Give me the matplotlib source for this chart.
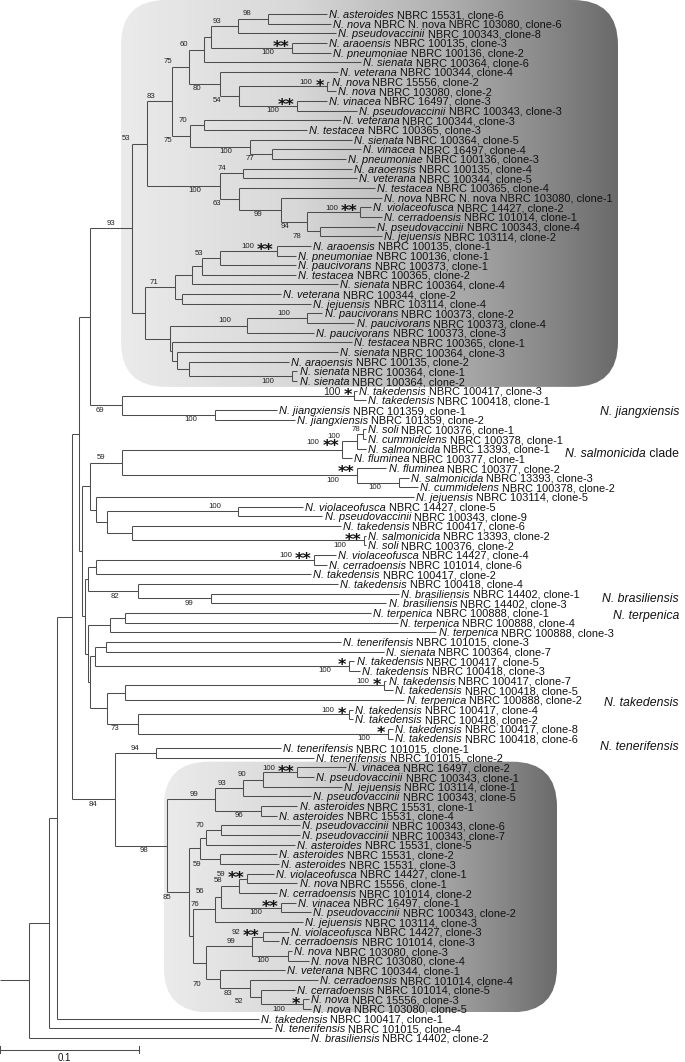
import numpy as np
import matplotlib
matplotlib.use("Agg")
import matplotlib.pyplot as plt
from matplotlib.collections import LineCollection
from matplotlib.patches import FancyBboxPatch
from matplotlib.colors import LinearSegmentedColormap

# ---- leaves (top to bottom) ----
LEAF_SPECIES = [
    "asteroides", "nova", "pseudovaccinii", "araoensis", "pneumoniae", "sienata", "veterana", "nova", "nova", "vinacea",
    "pseudovaccinii", "veterana", "testacea", "sienata", "vinacea", "pneumoniae", "araoensis", "veterana", "testacea", "nova",
    "violaceofusca", "cerradoensis", "pseudovaccinii", "jejuensis", "araoensis", "pneumoniae", "paucivorans", "testacea", "sienata", "veterana",
    "jejuensis", "paucivorans", "paucivorans", "paucivorans", "testacea", "sienata", "araoensis", "sienata", "sienata", "takedensis",
    "takedensis", "jiangxiensis", "jiangxiensis", "soli", "cummidelens", "salmonicida", "fluminea", "fluminea", "salmonicida", "cummidelens",
    "jejuensis", "violaceofusca", "pseudovaccinii", "takedensis", "salmonicida", "soli", "violaceofusca", "cerradoensis", "takedensis", "takedensis",
    "brasiliensis", "brasiliensis", "terpenica", "terpenica", "terpenica", "tenerifensis", "sienata", "takedensis", "takedensis", "takedensis",
    "takedensis", "terpenica", "takedensis", "takedensis", "takedensis", "takedensis", "tenerifensis", "tenerifensis", "vinacea", "pseudovaccinii",
    "jejuensis", "pseudovaccinii", "asteroides", "asteroides", "pseudovaccinii", "pseudovaccinii", "asteroides", "asteroides", "asteroides", "violaceofusca",
    "nova", "cerradoensis", "vinacea", "pseudovaccinii", "jejuensis", "violaceofusca", "cerradoensis", "nova", "nova", "veterana",
    "cerradoensis", "cerradoensis", "nova", "nova", "takedensis", "tenerifensis", "brasiliensis",
]

LEAF_STRAIN = [
    "NBRC 15531, clone-6", "NBRC N. nova NBRC 103080, clone-6", "NBRC 100343, clone-8", "NBRC 100135, clone-3",
    "NBRC 100136, clone-2", "NBRC 100364, clone-6", "NBRC 100344, clone-4", "NBRC 15556, clone-2",
    "NBRC 103080, clone-2", "NBRC 16497, clone-3", "NBRC 100343, clone-3", "NBRC 100344, clone-3",
    "NBRC 100365, clone-3", "NBRC 100364, clone-5", "NBRC 16497, clone-4", "NBRC 100136, clone-3",
    "NBRC 100135, clone-4", "NBRC 100344, clone-5", "NBRC 100365, clone-4", "NBRC N. nova NBRC 103080, clone-1",
    "NBRC 14427, clone-2", "NBRC 101014, clone-1", "NBRC 100343, clone-4", "NBRC 103114, clone-2",
    "NBRC 100135, clone-1", "NBRC 100136, clone-1", "NBRC 100373, clone-1", "NBRC 100365, clone-2",
    "NBRC 100364, clone-4", "NBRC 100344, clone-2", "NBRC 103114, clone-4", "NBRC 100373, clone-2",
    "NBRC 100373, clone-4", "NBRC 100373, clone-3", "NBRC 100365, clone-1", "NBRC 100364, clone-3",
    "NBRC 100135, clone-2", "NBRC 100364, clone-1", "NBRC 100364, clone-2", "NBRC 100417, clone-3",
    "NBRC 100418, clone-1", "NBRC 101359, clone-1", "NBRC 101359, clone-2", "NBRC 100376, clone-1",
    "NBRC 100378, clone-1", "NBRC 13393, clone-1", "NBRC 100377, clone-1", "NBRC 100377, clone-2",
    "NBRC 13393, clone-3", "NBRC 100378, clone-2", "NBRC 103114, clone-5", "NBRC 14427, clone-5",
    "NBRC 100343, clone-9", "NBRC 100417, clone-6", "NBRC 13393, clone-2", "NBRC 100376, clone-2",
    "NBRC 14427, clone-4", "NBRC 101014, clone-6", "NBRC 100417, clone-2", "NBRC 100418, clone-4",
    "NBRC 14402, clone-1", "NBRC 14402, clone-3", "NBRC 100888, clone-1", "NBRC 100888, clone-4",
    "NBRC 100888, clone-3", "NBRC 101015, clone-3", "NBRC 100364, clone-7", "NBRC 100417, clone-5",
    "NBRC 100418, clone-3", "NBRC 100417, clone-7", "NBRC 100418, clone-5", "NBRC 100888, clone-2",
    "NBRC 100417, clone-4", "NBRC 100418, clone-2", "NBRC 100417, clone-8", "NBRC 100418, clone-6",
    "NBRC 101015, clone-1", "NBRC 101015, clone-2", "NBRC 16497, clone-2", "NBRC 100343, clone-1",
    "NBRC 103114, clone-1", "NBRC 100343, clone-5", "NBRC 15531, clone-1", "NBRC 15531, clone-4",
    "NBRC 100343, clone-6", "NBRC 100343, clone-7", "NBRC 15531, clone-5", "NBRC 15531, clone-2",
    "NBRC 15531, clone-3", "NBRC 14427, clone-1", "NBRC 15556, clone-1", "NBRC 101014, clone-2",
    "NBRC 16497, clone-1", "NBRC 100343, clone-2", "NBRC 103114, clone-3", "NBRC 14427, clone-3",
    "NBRC 101014, clone-3", "NBRC 103080, clone-3", "NBRC 103080, clone-4", "NBRC 100344, clone-1",
    "NBRC 101014, clone-4", "NBRC 101014, clone-5", "NBRC 15556, clone-3", "NBRC 103080, clone-5",
    "NBRC 100417, clone-1", "NBRC 101015, clone-4", "NBRC 14402, clone-2",
]

# tip depth from the root stub (substitutions / site)
LEAF_DEPTH = [
    .235, .238, .242, .235, .238, .260, .243, .237, .242, .235,
    .257, .245, .221, .253, .260, .249, .253, .257, .270, .275,
    .267, .275, .270, .275, .224, .213, .213, .213, .243, .202,
    .224, .232, .255, .226, .253, .243, .208, .214, .214, .257,
    .263, .199, .212, .263, .263, .263, .253, .278, .294, .301,
    .298, .218, .232, .245, .263, .263, .242, .235, .224, .243,
    .287, .278, .267, .286, .314, .245, .276, .255, .259, .278,
    .283, .291, .254, .254, .283, .283, .202, .226, .249, .226,
    .246, .224, .214, .199, .216, .216, .212, .199, .201, .197,
    .214, .199, .213, .224, .218, .208, .201, .210, .222, .205,
    .229, .212, .222, .224, .186, .196, .222,
]

# ---- internal nodes: (id, depth, children, bootstrap, label side, significance stars) ----
TOP_CLADE = [
    ("t98", .193, [1, 2], "98", "a", ""),
    ("t93", .171, ["t98", 3], "93", "a", ""),
    ("t100a", .210, [4, 5], "100", "b", "**"),
    ("t211", .152, ["t93", "t100a"], "", "", ""),
    ("t60", .147, ["t211", 6], "60", "a", ""),
    ("t100b", .235, [8, 9], "100", "a", "*"),
    ("t100c", .214, [10, 11], "100", "b", "**"),
    ("t54", .172, ["t100b", "t100c"], "54", "b", ""),
    ("t80", .158, [7, "t54"], "80", "b", ""),
    ("t75a", .136, ["t60", "t80"], "75", "a", ""),
    ("t70", .147, [12, 13], "70", "a", ""),
    ("t77", .196, [15, 16], "77", "b", ""),
    ("t100d", .180, [14, "t77"], "100", "b", ""),
    ("t75b", .137, ["t70", "t100d"], "75", "b", ""),
    ("t83", .124, ["t75a", "t75b"], "83", "a", ""),
    ("t74", .175, [17, 18], "74", "a", ""),
    ("t100e", .259, [21, 22], "100", "a", "**"),
    ("t78", .230, [23, 24], "78", "b", ""),
    ("t94", .221, ["t100e", "t78"], "94", "b", ""),
    ("t99", .202, [20, "t94"], "99", "b", ""),
    ("t63", .172, [19, "t99"], "63", "b", ""),
    ("t100f", .158, ["t74", "t63"], "100", "b", ""),
    ("t53a", .106, ["t83", "t100f"], "53", "a", ""),
    ("t100g", .199, [25, 26], "100", "a", "**"),
    ("t53b", .158, ["t100g", 27], "53", "a", ""),
    ("t202", .145, ["t53b", 28], "", "", ""),
    ("t192", .138, ["t202", 29], "", "", ""),
    ("t182", .131, [30, 31], "", "", ""),
    ("t71", .126, ["t192", "t182"], "71", "a", ""),
    ("t100h", .221, [32, 33], "100", "a", ""),
    ("t100i", .178, ["t100h", 34], "100", "a", ""),
    ("t100j", .210, [38, 39], "100", "b", ""),
    ("t189", .136, [37, "t100j"], "", "", ""),
    ("t176", .127, [36, "t189"], "", "", ""),
    ("t173", .124, [35, "t176"], "", "", ""),
    ("t169", .122, ["t100i", "t173"], "", "", ""),
    ("t145", .104, ["t71", "t169"], "", "", ""),
    ("t93b", .095, ["t53a", "t145"], "93", "a", ""),
]

MIDDLE_NODES = [
    ("m100a", .255, [40, 41], "100", "a", "*"),
    ("m100b", .155, [42, 43], "100", "b", ""),
    ("m69", .088, ["m100a", "m100b"], "69", "b", ""),
    ("m91", .065, ["t93b", "m69"], "", "", ""),
    ("m78", .261, [44, 45], "78", "A", ""),
    ("m100c", .257, ["m78", 46], "100", "a", ""),
    ("m100d", .246, ["m100c", 47], "100", "a", "**"),
    ("m100e", .287, [49, 50], "100", "b", ""),
    ("m100f", .257, [48, "m100e"], "100", "b", "**"),
    ("m59", .088, ["m100d", "m100f"], "59", "a", ""),
    ("m100g", .171, [52, 53], "100", "a", ""),
    ("m100h", .262, [55, 56], "100", "b", "**"),
    ("m132", .095, [54, "m100h"], "", "", ""),
    ("m107", .077, ["m100g", "m132"], "", "", ""),
    ("m96", .069, [51, "m107"], "", "", ""),
    ("mF", .065, ["m59", "m96"], "", "", ""),
    ("m100i", .226, [57, 58], "100", "a", "**"),
    ("m96b", .069, ["m100i", 59], "", "", ""),
    ("m99", .152, [61, 62], "99", "b", ""),
    ("m82", .099, [60, "m99"], "82", "b", ""),
    ("m88", .063, ["m96b", "m82"], "", "", ""),
    ("m125", .090, [63, 64], "", "", ""),
    ("m110", .079, ["m125", 65], "", "", ""),
    ("m105", .076, [66, 67], "", "", ""),
    ("m100j", .251, [68, 69], "100", "b", "*"),
    ("m94", .068, ["m105", "m100j"], "", "", ""),
    ("m100k", .276, [70, 71], "100", "a", "*"),
    ("m125b", .090, ["m100k", 72], "", "", ""),
    ("m100l", .251, [73, 74], "100", "a", "*"),
    ("m100m", .279, [75, 76], "100", "b", "*"),
    ("m73", .099, ["m100l", "m100m"], "73", "b", ""),
    ("m107b", .077, ["m125b", "m73"], "", "", ""),
    ("mH", .065, ["m94", "m107b"], "", "", ""),
    ("mI", .063, ["m110", "mH"], "", "", ""),
    ("mJ", .061, ["m88", "mI"], "", "", ""),
    ("mE", .059, ["mF", "mJ"], "", "", ""),
    ("mD", .057, ["m91", "mE"], "", "", ""),
]

BOTTOM_CLADE = [
    ("b94", .112, [77, 78], "94", "a", ""),
    ("b100a", .214, [79, 80], "100", "a", "**"),
    ("b90", .189, ["b100a", 81], "90", "a", ""),
    ("b93", .175, ["b90", 82], "93", "a", ""),
    ("b96", .188, [83, 84], "96", "b", ""),
    ("b99a", .155, ["b93", "b96"], "99", "a", ""),
    ("b70a", .159, [85, 86], "70", "a", ""),
    ("b206", .148, ["b70a", 87], "", "", ""),
    ("b59a", .158, [88, 89], "59", "b", ""),
    ("bT", .144, ["b206", "b59a"], "", "", ""),
    ("b59b", .178, [90, 91], "59", "a", "**"),
    ("b58", .172, ["b59b", 92], "58", "a", ""),
    ("b100b", .202, [93, 94], "100", "b", "**"),
    ("b56", .159, ["b58", "b100b"], "56", "a", ""),
    ("b76", .155, ["b56", 95], "76", "a", ""),
    ("b92", .189, [96, 97], "92", "a", "**"),
    ("b100c", .207, [98, 99], "100", "b", ""),
    ("b99b", .181, ["b92", "b100c"], "99", "a", ""),
    ("b100d", .218, [103, 104], "100", "b", "*"),
    ("b52", .188, [102, "b100d"], "52", "b", ""),
    ("b83", .180, [101, "b52"], "83", "b", ""),
    ("b70b", .158, [100, "b83"], "70", "b", ""),
    ("bW", .148, ["b99b", "b70b"], "", "", ""),
    ("bU", .139, ["b76", "bW"], "", "", ""),
    ("b85", .136, ["bT", "bU"], "85", "b", ""),
    ("b98", .120, ["b99a", "b85"], "98", "b", ""),
    ("b84", .083, ["b94", "b98"], "84", "b", ""),
]

BACKBONE = [
    ("rC", .052, ["mD", "b84"], "", "", ""),
    ("rB", .041, ["rC", 105], "", "", ""),
    ("rA", .035, ["rB", 106], "", "", ""),
    ("root", .021, ["rA", 107], "", "", ""),
]

GROUP_NAMES = ["N. jiangxiensis", "N. salmonicida", "N. brasiliensis", "N. terpenica", "N. takedensis", "N. tenerifensis"]
GROUP_SUFFIX = ["", " clade", "", "", "", ""]
GROUP_ROW = [41.0, 45.4, 60.4, 62.2, 71.2, 75.7]

SCALE_BAR = 0.1

# ---- layout ----
DPI = 100
W_PX, H_PX = 685, 1062
PX_PER_UNIT = 1390.0      # scale bar 0.1 ~ 139 px
ROW_PX = 9.66
TOP_PX = 14.0

plt.rcParams["font.family"] = ["Liberation Sans", "DejaVu Sans"]
FS_LEAF = 7.9
FS_SUP = 5.6
FS_STAR = 11.5
FS_GROUP = 8.8
LINE_C = "#4d4d4d"
TXT_C = "#111111"

fig = plt.figure(figsize=(W_PX / DPI, H_PX / DPI), dpi=DPI)
ax = fig.add_axes([0, 0, 1, 1])
ax.set_xlim(0, W_PX / PX_PER_UNIT)
ax.set_ylim((H_PX - TOP_PX) / ROW_PX, -TOP_PX / ROW_PX)
ax.axis("off")

nodes = {}
for group in (TOP_CLADE, MIDDLE_NODES, BOTTOM_CLADE, BACKBONE):
    for nid, depth, kids, sup, side, star in group:
        nodes[nid] = {"depth": depth, "kids": kids, "sup": sup, "side": side, "star": star}


def pos(ref):
    if isinstance(ref, int):
        return LEAF_DEPTH[ref - 1], float(ref - 1)
    n = nodes[ref]
    if "y" not in n:
        ys = [pos(k)[1] for k in n["kids"]]
        n["y"] = (ys[0] + ys[-1]) / 2
    return n["depth"], n["y"]


# ---- shaded clade boxes ----
box_cmap = LinearSegmentedColormap.from_list(
    "box", [(0, "#ebebeb"), (0.35, "#d8d8d8"), (0.65, "#b0b0b0"), (0.85, "#8a8a8a"), (1, "#6a6a6a")])
r_x = 45 / PX_PER_UNIT
aspect = PX_PER_UNIT / ROW_PX
boxes = [
    (nodes["t93b"]["depth"] - 11 / PX_PER_UNIT, 618 / PX_PER_UNIT, -1.45, 38.6),
    (nodes["b98"]["depth"] - 3 / PX_PER_UNIT, 557 / PX_PER_UNIT, 77.4, 103.35),
]
grad = np.linspace(0, 1, 256)[None, :]
for x0, x1, y0, y1 in boxes:
    patch = FancyBboxPatch((x0, y0), x1 - x0, y1 - y0,
                           boxstyle=f"round,pad=0,rounding_size={r_x}",
                           mutation_aspect=aspect, facecolor="none", edgecolor="none")
    ax.add_patch(patch)
    im = ax.imshow(grad, extent=(x0, x1, y1, y0), cmap=box_cmap, aspect="auto",
                   interpolation="bilinear", zorder=0)
    im.set_clip_path(patch)

# ---- branches ----
segs = []
for nid, n in nodes.items():
    d, y = pos(nid)
    kid_pos = [pos(k) for k in n["kids"]]
    segs.append([(d, kid_pos[0][1]), (d, kid_pos[-1][1])])
    for kd, ky in kid_pos:
        segs.append([(d, ky), (kd, ky)])
rd, ry = pos("root")
segs.append([(0, ry), (rd, ry)])
ax.add_collection(LineCollection(segs, colors=LINE_C, linewidths=0.75, zorder=2))

# ---- leaf labels ----
for i in range(len(LEAF_SPECIES)):
    t = ax.annotate("N. " + LEAF_SPECIES[i], xy=(LEAF_DEPTH[i], i), xytext=(1.5, 0),
                    textcoords="offset points", fontsize=FS_LEAF, style="italic",
                    ha="left", va="center_baseline", color=TXT_C, zorder=3)
    ax.annotate(LEAF_STRAIN[i], xy=(1, 0), xycoords=t, xytext=(0.28 * FS_LEAF, 0),
                textcoords="offset points", fontsize=FS_LEAF, ha="left", va="bottom",
                color=TXT_C, zorder=3)

# ---- bootstrap values and stars ----
star_w = 0.5 * FS_STAR
for nid, n in nodes.items():
    d, y = pos(nid)
    up_d, up_y = pos(n["kids"][0])
    if n["star"]:
        ax.annotate(n["star"], xy=(d, up_y), xytext=(-2.0, -0.58 * FS_STAR), textcoords="offset points",
                    fontsize=FS_STAR, fontweight="bold", family="DejaVu Sans",
                    ha="right", va="baseline", color=TXT_C, zorder=3)
    if not n["sup"]:
        continue
    fs = 7.5 if nid == "m100a" else FS_SUP
    side = n["side"]
    if side == "a" and n["star"]:
        dx = -(2.0 + star_w * len(n["star"]) + 2.5)
        ax.annotate(n["sup"], xy=(d, up_y), xytext=(dx, 0), textcoords="offset points",
                    fontsize=fs, ha="right", va="center_baseline", color="#222222", zorder=3)
    elif side in ("a", "A"):
        dx = -12.0 if side == "a" else -2.0
        ax.annotate(n["sup"], xy=(d, y), xytext=(dx, 1.0), textcoords="offset points",
                    fontsize=fs, ha="right", va="bottom", color="#222222", zorder=3)
    else:
        ax.annotate(n["sup"], xy=(d, y), xytext=(-13.0, -1.0), textcoords="offset points",
                    fontsize=fs, ha="right", va="top", color="#222222", zorder=3)

# ---- clade names on the right ----
x_right = 679 / PX_PER_UNIT
for name, suffix, row in zip(GROUP_NAMES, GROUP_SUFFIX, GROUP_ROW):
    if suffix:
        s = ax.text(x_right, row, suffix, fontsize=FS_GROUP, ha="right", va="center_baseline", color=TXT_C)
        ax.annotate(name, xy=(0, 0), xycoords=s, xytext=(0, 0), textcoords="offset points",
                    fontsize=FS_GROUP, style="italic", ha="right", va="bottom", color=TXT_C)
    else:
        ax.text(x_right, row, name, fontsize=FS_GROUP, style="italic", ha="right",
                va="center_baseline", color=TXT_C)

# ---- scale bar ----
y_sb = len(LEAF_SPECIES) + 0.2
ax.plot([0, SCALE_BAR], [y_sb, y_sb], color=LINE_C, lw=0.75)
ax.plot([0, 0], [y_sb - 0.4, y_sb + 0.4], color=LINE_C, lw=0.75)
ax.plot([SCALE_BAR, SCALE_BAR], [y_sb - 0.4, y_sb + 0.4], color=LINE_C, lw=0.75)
ax.text(SCALE_BAR * 0.46, y_sb + 0.35, "0.1", fontsize=7, ha="center", va="top", color=TXT_C)

fig.savefig("out.png", dpi=DPI)
